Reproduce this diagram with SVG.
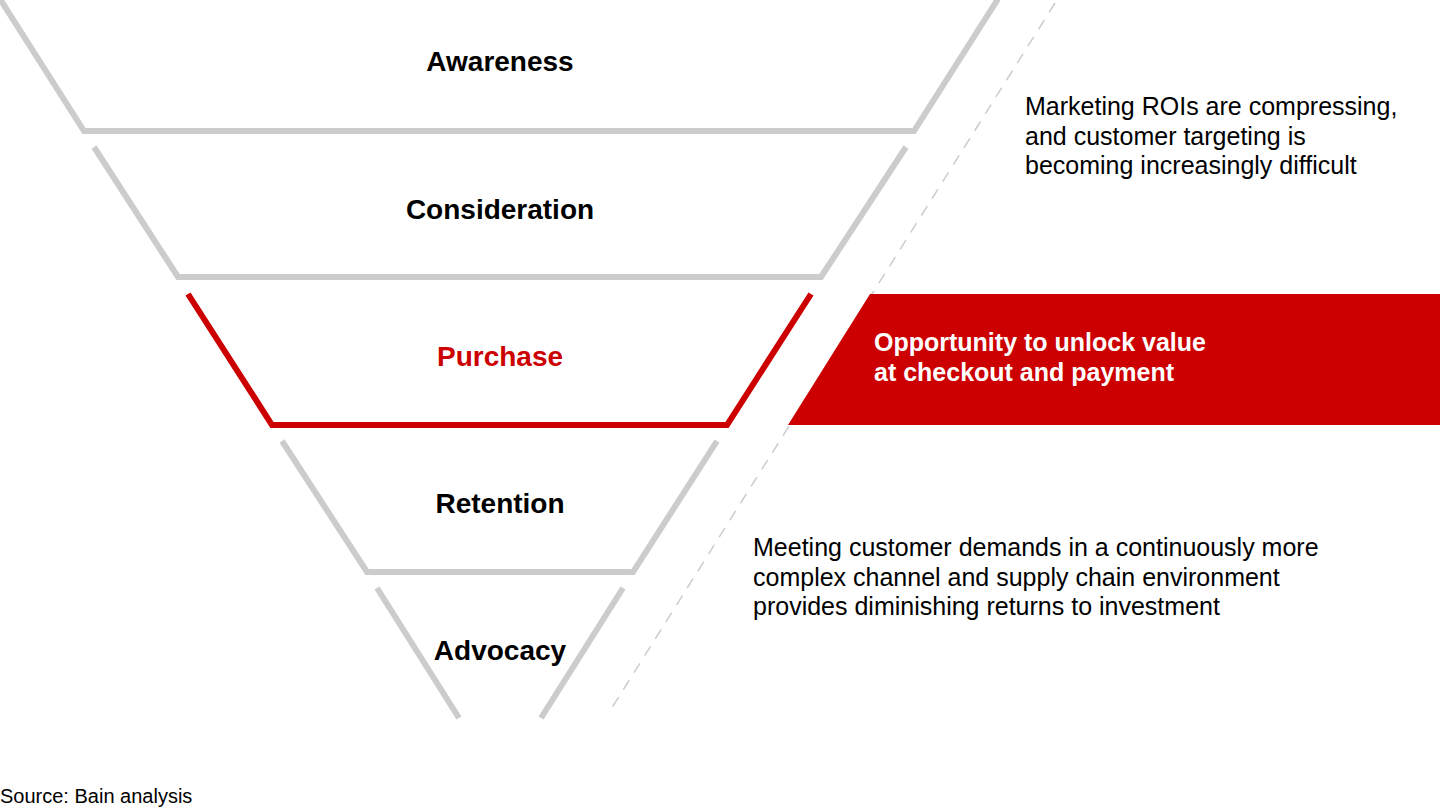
<svg xmlns="http://www.w3.org/2000/svg" width="1440" height="810" viewBox="0 0 1440 810">
<style>
.stage{fill:none;stroke:#cccccc;stroke-width:6;stroke-linejoin:miter;stroke-linecap:butt}
.hl{stroke:#cc0000}
.lbl{font-family:"Liberation Sans",Arial,sans-serif;font-weight:bold;font-size:28px;fill:#000;text-anchor:middle}
.note{font-family:"Liberation Sans",Arial,sans-serif;font-size:25px;fill:#000}
.wt{font-family:"Liberation Sans",Arial,sans-serif;font-weight:bold;font-size:25px;fill:#fff}
</style>
<rect width="1440" height="810" fill="#fff"/>
<g id="connectors">
<line x1="1055" y1="3" x2="608" y2="714" stroke="#cccccc" stroke-width="1.5" stroke-dasharray="11 9"/>
</g>
<g id="awareness">
<polyline class="stage" points="0,-1 84,131 914,131 998,-1"/>
<text class="lbl" x="500" y="71">Awareness</text>
</g>
<g id="consideration">
<polyline class="stage" points="94,147 178,277 821,277 906,147"/>
<text class="lbl" x="500" y="219">Consideration</text>
</g>
<g id="purchase">
<polyline class="stage hl" points="188,294 272,425 727,425 811,294"/>
<text class="lbl" x="500" y="366" style="fill:#cc0000">Purchase</text>
</g>
<g id="retention">
<polyline class="stage" points="282,441 367,572 633,572 717,441"/>
<text class="lbl" x="500" y="513">Retention</text>
</g>
<g id="advocacy">
<line class="stage" x1="377" y1="588" x2="459" y2="718"/>
<line class="stage" x1="623" y1="588" x2="541" y2="718"/>
<text class="lbl" x="500" y="660">Advocacy</text>
</g>
<g id="note-marketing">
<text class="note" x="1025" y="115">Marketing ROIs are compressing,</text>
<text class="note" x="1025" y="145">and customer targeting is</text>
<text class="note" x="1025" y="174">becoming increasingly difficult</text>
</g>
<g id="opportunity">
<polygon points="870,294 1440,294 1440,425 788,425" fill="#cc0000"/>
<text class="wt" x="874" y="351">Opportunity to unlock value</text>
<text class="wt" x="874" y="381">at checkout and payment</text>
</g>
<g id="note-demands">
<text class="note" x="753" y="556">Meeting customer demands in a continuously more</text>
<text class="note" x="753" y="586">complex channel and supply chain environment</text>
<text class="note" x="753" y="615">provides diminishing returns to investment</text>
</g>
<text x="0" y="803" font-family="Liberation Sans, Arial, sans-serif" font-size="20" fill="#000">Source: Bain analysis</text>
</svg>
